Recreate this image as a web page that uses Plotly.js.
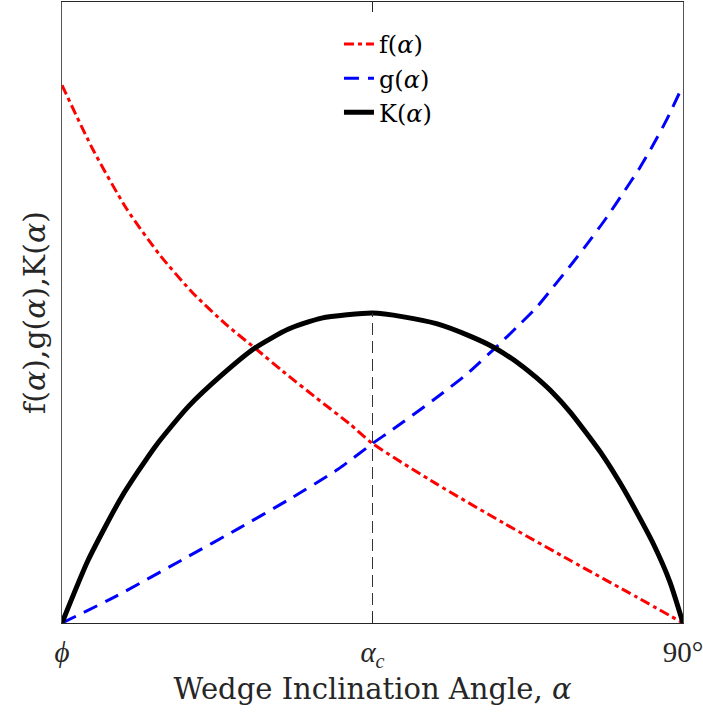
<!DOCTYPE html>
<html>
<head>
<meta charset="utf-8">
<script src="https://cdn.plot.ly/plotly-3.0.1.min.js"></script>
<style>
html,body{margin:0;padding:0;background:#fff;}
#chart{width:703px;height:714px;}
</style>
</head>
<body>
<div id="chart"></div>
<script>
// x is normalized angle position: 0 = phi, 0.5 = alpha_c, 1 = 90 deg
const fX = [0, 0.050, 0.104, 0.158, 0.211, 0.265, 0.314, 0.356, 0.410, 0.464, 0.5, 0.603, 0.711, 0.818, 0.925, 1];
const fY = [0.866, 0.762, 0.667, 0.592, 0.531, 0.480, 0.440, 0.405, 0.362, 0.320, 0.289, 0.224, 0.161, 0.101, 0.042, 0];

const gX = [0, 0.085, 0.203, 0.284, 0.364, 0.445, 0.5, 0.533, 0.598, 0.652, 0.703, 0.732, 0.764, 0.791, 0.823, 0.850, 0.877, 0.904, 0.931, 0.952, 0.974, 1];
const gY = [0, 0.042, 0.107, 0.152, 0.198, 0.248, 0.289, 0.312, 0.359, 0.401, 0.448, 0.476, 0.508, 0.541, 0.581, 0.616, 0.653, 0.693, 0.734, 0.770, 0.811, 0.866];

const kX = [0, 0.042, 0.096, 0.150, 0.203, 0.257, 0.311, 0.364, 0.418, 0.5, 0.550, 0.603, 0.657, 0.695, 0.738, 0.764, 0.791, 0.818, 0.845, 0.872, 0.899, 0.925, 0.952, 0.979, 1];
const kY = [0, 0.101, 0.203, 0.284, 0.348, 0.399, 0.443, 0.473, 0.491, 0.499, 0.493, 0.482, 0.462, 0.444, 0.416, 0.395, 0.370, 0.340, 0.305, 0.268, 0.225, 0.179, 0.128, 0.066, 0];

const critX = [0.5, 0.5];
const critY = [0, 0.499];

const tickVals = [0, 0.5, 1];
const tickText = ['<i>ϕ</i>', '<i>α</i><sub><i>c</i></sub>', '90°'];

const seriesNames = ['f(<i>α</i>)', 'g(<i>α</i>)', 'K(<i>α</i>)'];

const SERIF = 'Liberation Serif, Times New Roman, serif';
const WIDE = 'DejaVu Serif, serif';

const traces = [
  {x: fX, y: fY, mode: 'lines', name: seriesNames[0], legendgroup: 'a',
   line: {color: '#FF0000', width: 3, dash: '10px,4px,4px,4px', shape: 'spline', smoothing: 0.6}},
  {x: gX, y: gY, mode: 'lines', name: seriesNames[1], legendgroup: 'b',
   line: {color: '#0000FF', width: 3, dash: '15px,9px', shape: 'spline', smoothing: 0.6}},
  {x: kX, y: kY, mode: 'lines', name: seriesNames[2], legendgroup: 'c',
   line: {color: '#000000', width: 5, shape: 'spline', smoothing: 0.6}},
  {x: critX, y: critY, mode: 'lines', showlegend: false, hoverinfo: 'skip',
   line: {color: '#333333', width: 1, dash: '12px,6px'}}
];

const layout = {
  width: 703, height: 714,
  margin: {l: 62, r: 20, t: 2, b: 91},
  paper_bgcolor: '#ffffff', plot_bgcolor: '#ffffff',
  font: {family: SERIF, size: 26, color: '#262626'},
  showlegend: true,
  legend: {
    x: 0.446, y: 0.968, xanchor: 'left', yanchor: 'top',
    bgcolor: 'rgba(0,0,0,0)', borderwidth: 0,
    font: {family: WIDE, size: 24, color: '#000'},
    tracegroupgap: 1, traceorder: 'normal'
  },
  xaxis: {
    range: [0, 1], tickmode: 'array', tickvals: tickVals, ticktext: tickText,
    ticks: 'inside', ticklen: 10, tickcolor: '#262626', mirror: 'allticks',
    showline: true, linecolor: '#262626', linewidth: 1,
    showgrid: false, zeroline: false,
    tickfont: {family: SERIF, size: 29, color: '#262626'},
    ticklabelstandoff: 3, ticklabeloverflow: 'allow',
    title: {text: 'Wedge Inclination Angle, <i>α</i>', font: {family: WIDE, size: 29, color: '#262626'}, standoff: 4}
  },
  yaxis: {
    range: [0, 1], showticklabels: false, ticks: '',
    showline: true, mirror: true, linecolor: '#555555', linewidth: 1,
    showgrid: false, zeroline: false,
    title: {text: 'f(<i>α</i>),g(<i>α</i>),K(<i>α</i>)', font: {family: WIDE, size: 30, color: '#262626'}, standoff: 6}
  }
};

Plotly.newPlot('chart', traces, layout, {staticPlot: true, displayModeBar: false});
</script>
</body>
</html>
